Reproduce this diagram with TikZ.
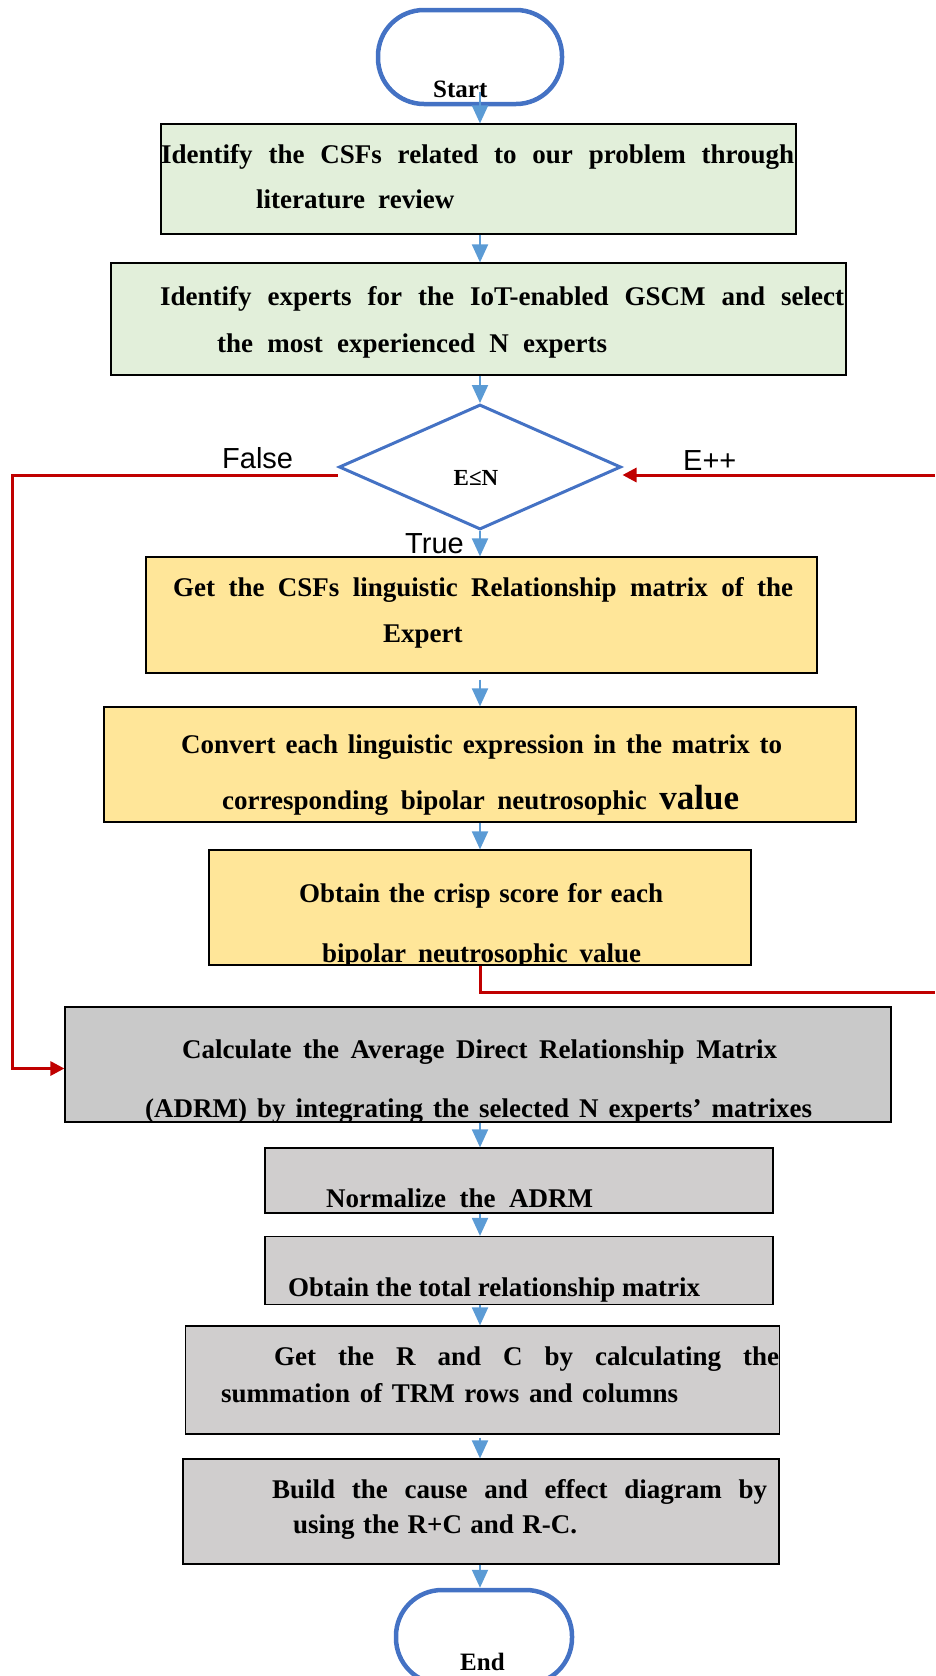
\documentclass[tikz,border=0pt]{standalone}
\usepackage{fontspec}
\setmainfont{Liberation Serif}
\newfontfamily\arialf{Liberation Sans}
\usetikzlibrary{shapes.geometric,arrows.meta}
\definecolor{termblue}{HTML}{4472C4}
\definecolor{arrblue}{HTML}{5B9BD5}
\definecolor{loopred}{HTML}{C00000}
\definecolor{boxgreen}{HTML}{E2EFDA}
\definecolor{boxyellow}{HTML}{FFE699}
\definecolor{boxgrayA}{HTML}{C9C9C9}
\definecolor{boxgrayB}{HTML}{D0CECE}
\newlength\fitw
\newcommand\fitline[2]{%
  \settowidth{\fitw}{#2}%
  \ifdim\fitw<#1\relax
    \hbox to #1{\spaceskip=.25em plus 1fil\relax #2}%
  \else
    \pgfmathsetmacro\fitr{(#1)/(\fitw)}%
    \scalebox{\fitr}[1]{#2}%
  \fi}
\begin{document}
\begin{tikzpicture}[x=1pt,y=-1pt,
  terminal/.style={draw=termblue, line width=4.5pt, rounded corners=46pt, inner sep=0pt},
  stepbox/.style={draw=black, line width=1.2pt, inner sep=0pt},
  tx/.style={inner sep=0pt, anchor=base west, font=\bfseries\fontsize{27}{27}\selectfont},
  lbl/.style={inner sep=0pt, anchor=base west, font=\arialf\fontsize{29}{29}\selectfont},
  flowarrow/.style={draw=arrblue, line width=2pt, -{Triangle[length=18pt,width=16pt]}},
  redline/.style={draw=loopred, line width=3pt},
  redarrow/.style={draw=loopred, line width=3pt, -{Triangle[length=14pt,width=14pt]}}]
\useasboundingbox (0,0) rectangle (935,1676);
\coordinate (ax) at (480,0);
\coordinate (rin) at (935,475);
\coordinate (rout) at (935,992);
\coordinate (lft) at (12,475);

% terminals
\node[terminal, minimum width=184pt, minimum height=94pt] (start) at (470,57) {};
\node[terminal, minimum width=176pt, minimum height=94pt] (end) at (484,1637) {};
\node[tx, font=\bfseries\fontsize{25}{25}\selectfont] (startt) at (433,97) {\fitline{55pt}{Start}};
\node[tx, font=\bfseries\fontsize{25}{25}\selectfont] (endt) at (460,1670) {\fitline{47pt}{End}};

% boxes
\node[stepbox, fill=boxgreen, minimum width=635pt, minimum height=110pt] (b1) at (478.5,179) {};
\node[stepbox, fill=boxgreen, minimum width=735pt, minimum height=112pt] (b2) at (478.5,319) {};
\node[draw=termblue, line width=3pt, shape=diamond, minimum width=282pt, minimum height=125pt, inner sep=0pt] (d) at (480,467) {};
\node[stepbox, fill=boxyellow, minimum width=671pt, minimum height=116pt] (b3) at (481.5,615) {};
\node[stepbox, fill=boxyellow, minimum width=752pt, minimum height=115pt] (b4) at (480,764.5) {};
\node[stepbox, fill=boxyellow, minimum width=542pt, minimum height=115pt] (b5) at (480,907.5) {};
\node[stepbox, fill=boxgrayA, minimum width=826pt, minimum height=115pt] (b6) at (478,1064.5) {};
\node[stepbox, fill=boxgrayB, minimum width=508pt, minimum height=65pt] (b7) at (519,1180.5) {};
\node[stepbox, fill=boxgrayB, minimum width=508pt, minimum height=68pt] (b8) at (519,1270.5) {};
\node[stepbox, fill=boxgrayB, minimum width=594pt, minimum height=108pt] (b9) at (482.5,1380) {};
\node[stepbox, fill=boxgrayB, minimum width=596pt, minimum height=105pt] (b10) at (481,1511.5) {};

% texts
\node[tx] (b1a) at (161,163) {\fitline{633pt}{Identify the CSFs related to our problem through}};
\node[tx] (b1b) at (256,208) {\fitline{198pt}{literature review}};
\node[tx] (b2a) at (160,305) {\fitline{684pt}{Identify experts for the IoT-enabled GSCM and select}};
\node[tx] (b2b) at (217,352) {\fitline{390pt}{the most experienced N experts}};
\node[font=\bfseries\fontsize{23}{23}\selectfont, inner sep=0pt] (dt) at (476,478) {E≤N};
\node[tx] (b3a) at (173,596) {\fitline{620pt}{Get the CSFs linguistic Relationship matrix of the}};
\node[tx] (b3b) at (383,642) {\fitline{81pt}{Expert}};
\node[tx] (b4a) at (181,753) {\fitline{601pt}{Convert each linguistic expression in the matrix to}};
\node[tx] (b4b) at (222,809) {\fitline{517pt}{corresponding bipolar neutrosophic {\fontsize{35}{35}\selectfont value}}};
\begin{scope}
\clip (b5.south west) rectangle (b5.north east);
\node[tx] (b5a) at (299,902) {\fitline{364pt}{Obtain the crisp score for each}};
\node[tx] (b5b) at (322,962) {\fitline{319pt}{bipolar neutrosophic value}};
\end{scope}
\begin{scope}
\clip (b6.south west) rectangle (b6.north east);
\node[tx] (b6a) at (182,1058) {\fitline{595pt}{Calculate the Average Direct Relationship Matrix}};
\node[tx] (b6b) at (145,1117) {\fitline{667pt}{(ADRM) by integrating the selected N experts’ matrixes}};
\end{scope}
\node[tx] (b7a) at (326,1207) {\fitline{267pt}{Normalize the ADRM}};
\node[tx] (b8a) at (288,1296) {\fitline{412pt}{Obtain the total relationship matrix}};
\node[tx] (b9a) at (274,1365) {\fitline{505pt}{Get the R and C by calculating the}};
\node[tx] (b9b) at (221,1402) {\fitline{457pt}{summation of TRM rows and columns}};
\node[tx] (b10a) at (272,1498) {\fitline{495pt}{Build the cause and effect diagram by}};
\node[tx] (b10b) at (293,1533) {\fitline{284pt}{using the R+C and R-C.}};

% labels
\node[lbl] (lfalse) at (222,468) {False};
\node[lbl] (lepp) at (683,470) {E++};
\node[lbl] (ltrue) at (405,553) {True};

% blue connectors
\draw[flowarrow] ([yshift=14pt]start.south -| ax) -- (b1.north -| ax);
\draw[flowarrow] (b1.south -| ax) -- (b2.north -| ax);
\draw[flowarrow] (b2.south -| ax) -- (d.north);
\draw[flowarrow] (d.south) -- (b3.north -| ax);
\draw[flowarrow] ([yshift=-6pt]b3.south -| ax) -- (b4.north -| ax);
\draw[flowarrow] (b4.south -| ax) -- (b5.north -| ax);
\draw[flowarrow] (b6.south -| ax) -- (b7.north -| ax);
\draw[flowarrow] (b7.south -| ax) -- (b8.north -| ax);
\draw[flowarrow] (b8.south -| ax) -- (b9.north -| ax);
\draw[flowarrow] ([yshift=-3pt]b9.south -| ax) -- (b10.north -| ax);
\draw[flowarrow] (b10.south -| ax) -- (end.north -| ax);

% red connectors
\draw[redarrow] ([yshift=-8pt]d.west) -- (lft) |- ([yshift=-4pt]b6.west);
\draw[redarrow] (rin) -- ([yshift=-8pt]d.east);
\draw[redline] (b5.south -| ax) |- (rout);
\end{tikzpicture}
\end{document}
